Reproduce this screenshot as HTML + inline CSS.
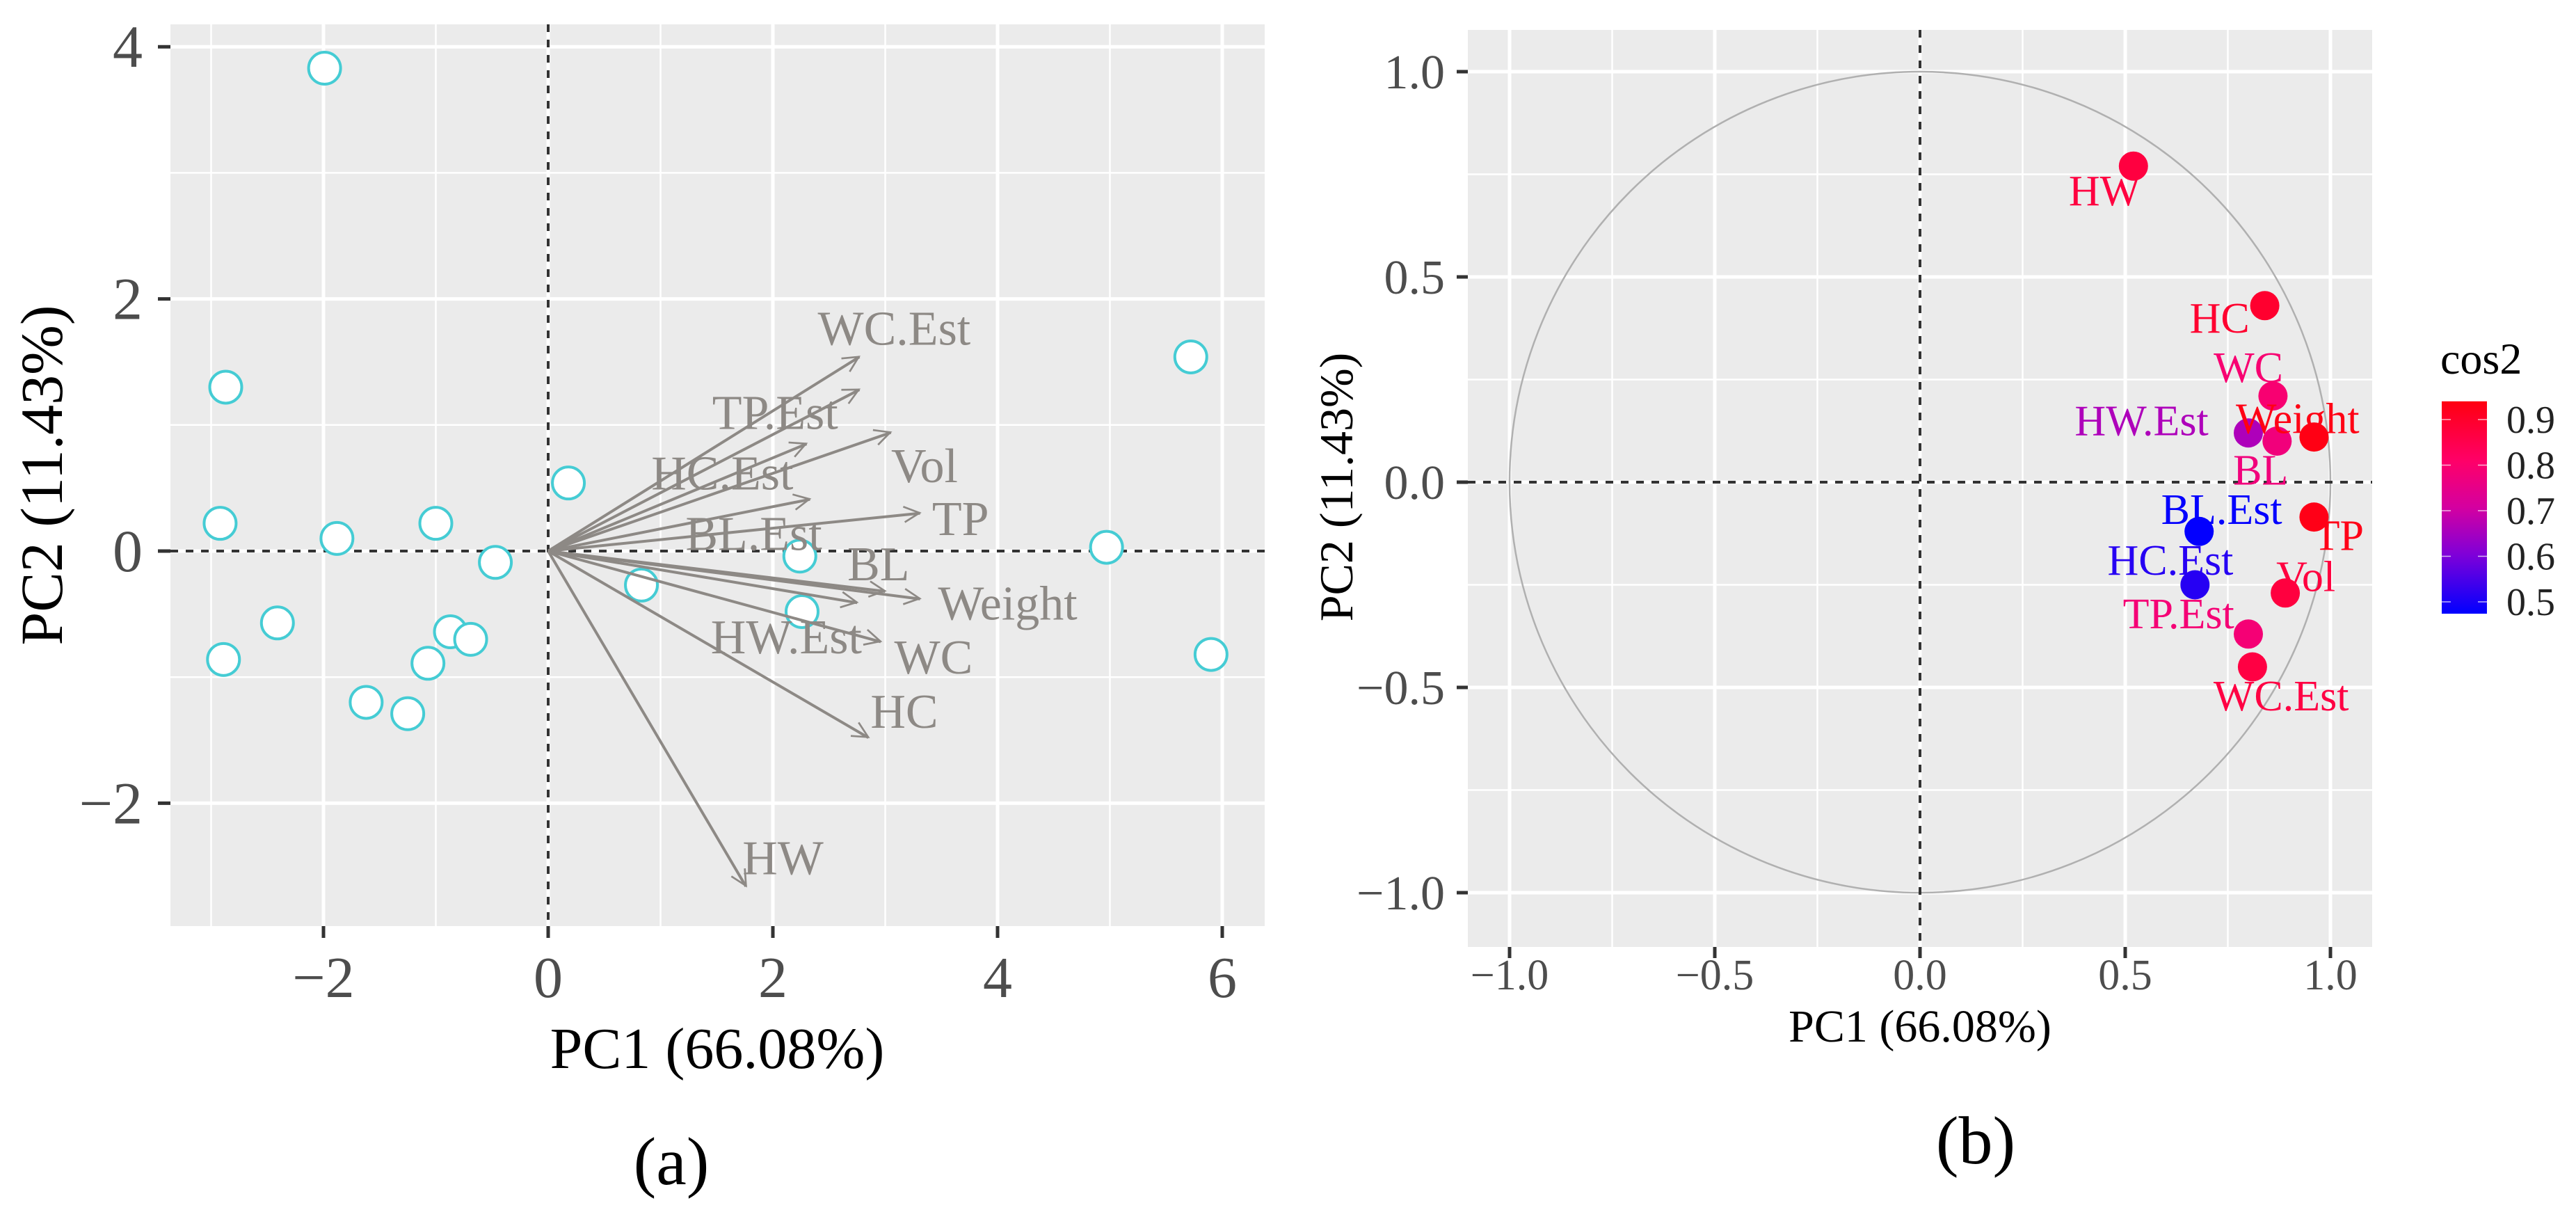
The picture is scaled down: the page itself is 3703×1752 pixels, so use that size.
<!DOCTYPE html>
<html><head><meta charset="utf-8"><style>
html,body{margin:0;padding:0;background:#fff;}
svg{display:block;font-family:"Liberation Serif",serif;}
</style></head><body>
<svg id="chart" width="3703" height="1752" viewBox="0 0 3703 1752" xmlns="http://www.w3.org/2000/svg">
<defs>
<marker id="ah" viewBox="0 0 10 10" refX="9" refY="5" markerWidth="7" markerHeight="7" orient="auto-start-reverse" markerUnits="userSpaceOnUse" style="overflow:visible"><path d="M0,0 L10,5 L0,10" fill="none" stroke="#8d8985" stroke-width="1.2" transform="scale(3.2) translate(-7.5,-3.7)"/></marker>
<linearGradient id="cg" x1="0" y1="1" x2="0" y2="0">
<stop offset="0" stop-color="#0000ff"/><stop offset="0.28" stop-color="#8000d8"/><stop offset="0.5" stop-color="#d400a0"/><stop offset="0.72" stop-color="#ff0068"/><stop offset="1" stop-color="#ff0010"/>
</linearGradient>
</defs>
<g id="left"></g>
<g id="right"></g>
</svg>
<script>
// ---- Panel (a) data ----
const indPC1 = [-1.99,-2.87,-2.92,-1.88,-1.0,-0.47,0.18,0.83,2.24,2.26,4.97,5.72,5.9,-2.89,-2.41,-0.87,-0.69,-1.07,-1.62,-1.25];
const indPC2 = [3.83,1.30,0.22,0.10,0.22,-0.09,0.54,-0.27,-0.04,-0.48,0.03,1.54,-0.82,-0.86,-0.57,-0.64,-0.70,-0.89,-1.20,-1.29];
const varNames = ["WC.Est","TP.Est","Vol","HC.Est","BL.Est","TP","BL","Weight","HW.Est","WC","HC","HW"];
const arrowPC1 = [2.77,2.77,3.05,2.30,2.33,3.31,3.0,3.31,2.75,2.96,2.85,1.76];
const arrowPC2 = [1.54,1.28,0.94,0.85,0.41,0.30,-0.32,-0.38,-0.41,-0.72,-1.48,-2.66];
const labelPC1 = [3.08,2.02,3.35,1.55,1.83,3.67,2.94,4.09,2.12,3.43,3.17,2.09];
const labelPC2 = [1.77,1.10,0.68,0.62,0.14,0.26,-0.10,-0.41,-0.68,-0.84,-1.27,-2.43];
const aXTicks = [-2,0,2,4,6];
const aYTicks = [-2,0,2,4];
const aXTickLabels = ["\u22122","0","2","4","6"];
const aYTickLabels = ["\u22122","0","2","4"];
// ---- Panel (b) data ----
const corNames = ["HW","HC","WC","HW.Est","BL","Weight","TP","BL.Est","HC.Est","Vol","TP.Est","WC.Est"];
const corPC1 = [0.52,0.84,0.86,0.80,0.87,0.96,0.96,0.68,0.67,0.89,0.80,0.81];
const corPC2 = [0.77,0.43,0.21,0.12,0.10,0.11,-0.085,-0.12,-0.25,-0.27,-0.37,-0.45];
const corLabelPC1 = [0.45,0.73,0.80,0.54,0.83,0.92,1.02,0.735,0.61,0.94,0.63,0.88];
const corLabelPC2 = [0.71,0.40,0.28,0.15,0.03,0.155,-0.13,-0.066,-0.19,-0.23,-0.32,-0.52];
const bTicks = [-1.0,-0.5,0.0,0.5,1.0];
const bTickLabels = ["\u22121.0","\u22120.5","0.0","0.5","1.0"];
const legendTicks = [0.5,0.6,0.7,0.8,0.9];

const NS = "http://www.w3.org/2000/svg";
function mk(parent, tag, attrs, text){
  const e = document.createElementNS(NS, tag);
  for (const k in attrs) e.setAttribute(k, attrs[k]);
  if (text !== undefined) e.textContent = text;
  parent.appendChild(e); return e;
}
const ax = v => 788 + v*161.5;
const ay = v => 792 - v*181.2;
const bx = v => 2760 + v*590;
const by = v => 693 - v*590;

function cos2Color(c){
  const stops=[[0.474,[0,0,255]],[0.6,[128,0,216]],[0.7,[212,0,160]],[0.8,[255,0,104]],[0.94,[255,0,16]]];
  if (c<=stops[0][0]) return "rgb(0,0,255)";
  for (let i=1;i<stops.length;i++){
    if (c<=stops[i][0]){
      const t=(c-stops[i-1][0])/(stops[i][0]-stops[i-1][0]);
      const a=stops[i-1][1], b=stops[i][1];
      return "rgb("+a.map((v,j)=>Math.round(v+(b[j]-v)*t)).join(",")+")";
    }
  }
  return "rgb(255,0,16)";
}

// ===== Panel A =====
const L = document.getElementById("left");
const pA = {x0:245,x1:1818,y0:35,y1:1331};
let bg = mk(L,"rect",{x:pA.x0,y:pA.y0,width:pA.x1-pA.x0,height:pA.y1-pA.y0,fill:"#ebebeb"});


for (let v=-3; v<=6; v+=2){ mk(L,"line",{x1:ax(v),x2:ax(v),y1:pA.y0,y2:pA.y1,stroke:"#fff","stroke-width":2.5}); }
for (let v=-1; v<=4; v+=2){ mk(L,"line",{x1:pA.x0,x2:pA.x1,y1:ay(v),y2:ay(v),stroke:"#fff","stroke-width":2.5}); }
aXTicks.forEach((v,i)=>{
  mk(L,"line",{x1:ax(v),x2:ax(v),y1:pA.y0,y2:pA.y1,stroke:"#fff","stroke-width":5});
  mk(L,"line",{x1:ax(v),x2:ax(v),y1:pA.y1,y2:pA.y1+17,stroke:"#333","stroke-width":5});
  const t = mk(L,"text",{x:ax(v),y:1433,"text-anchor":"middle","font-size":84,fill:"#4d4d4d"},aXTickLabels[i]);
  
  
});
aYTicks.forEach((v,i)=>{
  mk(L,"line",{x1:pA.x0,x2:pA.x1,y1:ay(v),y2:ay(v),stroke:"#fff","stroke-width":5});
  mk(L,"line",{x1:pA.x0-18,x2:pA.x0,y1:ay(v),y2:ay(v),stroke:"#333","stroke-width":5});
  const t = mk(L,"text",{x:205,y:ay(v)+29,"text-anchor":"end","font-size":86,fill:"#4d4d4d"},aYTickLabels[i]);
  
  
});
mk(L,"line",{x1:ax(0),x2:ax(0),y1:pA.y0,y2:pA.y1,stroke:"#333","stroke-width":4,"stroke-dasharray":"11,11"});
mk(L,"line",{x1:pA.x0,x2:pA.x1,y1:ay(0),y2:ay(0),stroke:"#333","stroke-width":4,"stroke-dasharray":"11,11"});
indPC1.forEach((v,i)=>{
  const c = mk(L,"circle",{cx:ax(v),cy:ay(indPC2[i]),r:23,fill:"#fff",stroke:"#45ccd4","stroke-width":4});
  
  
});
varNames.forEach((n,i)=>{
  const a = mk(L,"line",{x1:ax(0),y1:ay(0),x2:ax(arrowPC1[i]),y2:ay(arrowPC2[i]),stroke:"#8d8985","stroke-width":4,"marker-end":"url(#ah)"});
  
  
  const t = mk(L,"text",{x:ax(labelPC1[i]),y:ay(labelPC2[i])+24,"text-anchor":"middle","font-size":70,fill:"#8d8985"},n);
  
  
});
let at = mk(L,"text",{x:1031,y:1535,"text-anchor":"middle","font-size":84,fill:"#000"},"PC1 (66.08%)");


at = mk(L,"text",{x:0,y:0,"text-anchor":"middle","font-size":86,fill:"#000",transform:"translate(89,683) rotate(-90)"},"PC2 (11.43%)");


at = mk(L,"text",{x:965,y:1702,"text-anchor":"middle","font-size":98,fill:"#000"},"(a)");



// ===== Panel B =====
const R = document.getElementById("right");
const pB = {x0:2110,x1:3410,y0:43,y1:1361};
bg = mk(R,"rect",{x:pB.x0,y:pB.y0,width:pB.x1-pB.x0,height:pB.y1-pB.y0,fill:"#ebebeb"});


[-0.75,-0.25,0.25,0.75].forEach(v=>{
  mk(R,"line",{x1:bx(v),x2:bx(v),y1:pB.y0,y2:pB.y1,stroke:"#fff","stroke-width":2.5});
  mk(R,"line",{x1:pB.x0,x2:pB.x1,y1:by(v),y2:by(v),stroke:"#fff","stroke-width":2.5});
});
bTicks.forEach((v,i)=>{
  mk(R,"line",{x1:bx(v),x2:bx(v),y1:pB.y0,y2:pB.y1,stroke:"#fff","stroke-width":5});
  mk(R,"line",{x1:pB.x0,x2:pB.x1,y1:by(v),y2:by(v),stroke:"#fff","stroke-width":5});
  mk(R,"line",{x1:bx(v),x2:bx(v),y1:pB.y1,y2:pB.y1+16,stroke:"#333","stroke-width":5});
  mk(R,"line",{x1:pB.x0-16,x2:pB.x0,y1:by(v),y2:by(v),stroke:"#333","stroke-width":5});
  let t = mk(R,"text",{x:bx(v),y:1422,"text-anchor":"middle","font-size":62,fill:"#4d4d4d"},bTickLabels[i]);
  
  
  t = mk(R,"text",{x:2077,y:by(v)+24,"text-anchor":"end","font-size":70,fill:"#4d4d4d"},bTickLabels[i]);
  
  
});
const circ = mk(R,"circle",{cx:bx(0),cy:by(0),r:590,fill:"none",stroke:"#b0b0b0","stroke-width":2.5});


mk(R,"line",{x1:bx(0),x2:bx(0),y1:pB.y0,y2:pB.y1,stroke:"#333","stroke-width":4,"stroke-dasharray":"11,11"});
mk(R,"line",{x1:pB.x0,x2:pB.x1,y1:by(0),y2:by(0),stroke:"#333","stroke-width":4,"stroke-dasharray":"11,11"});
corNames.forEach((n,i)=>{
  const c2 = corPC1[i]*corPC1[i]+corPC2[i]*corPC2[i];
  const col = cos2Color(c2);
  const p = mk(R,"circle",{cx:bx(corPC1[i]),cy:by(corPC2[i]),r:21,fill:col});
  
  
  const t = mk(R,"text",{x:bx(corLabelPC1[i]),y:by(corLabelPC2[i])+21,"text-anchor":"middle","font-size":62,fill:col},n);
  
  
});
at = mk(R,"text",{x:2760,y:1497,"text-anchor":"middle","font-size":66,fill:"#000"},"PC1 (66.08%)");


at = mk(R,"text",{x:0,y:0,"text-anchor":"middle","font-size":68,fill:"#000",transform:"translate(1944,700) rotate(-90)"},"PC2 (11.43%)");


at = mk(R,"text",{x:2840,y:1672,"text-anchor":"middle","font-size":98,fill:"#000"},"(b)");



// legend
const lg = mk(R,"g",{});


const lt = mk(lg,"text",{x:3508,y:537,"font-size":64,fill:"#000"},"cos2");


const ly = v => 603 + (0.9 - v)*655;
const bar = mk(lg,"rect",{x:3510,y:ly(0.94),width:65,height:ly(0.474)-ly(0.94),fill:"url(#cg)"});


legendTicks.forEach(v=>{
  mk(lg,"line",{x1:3510,x2:3523,y1:ly(v),y2:ly(v),stroke:"#fff","stroke-width":1.5,opacity:0.7});
  mk(lg,"line",{x1:3562,x2:3575,y1:ly(v),y2:ly(v),stroke:"#fff","stroke-width":1.5,opacity:0.7});
  const t = mk(lg,"text",{x:3603,y:ly(v)+19,"font-size":56,fill:"#222"},v.toFixed(1));
  
  
});
</script>
</body></html>
